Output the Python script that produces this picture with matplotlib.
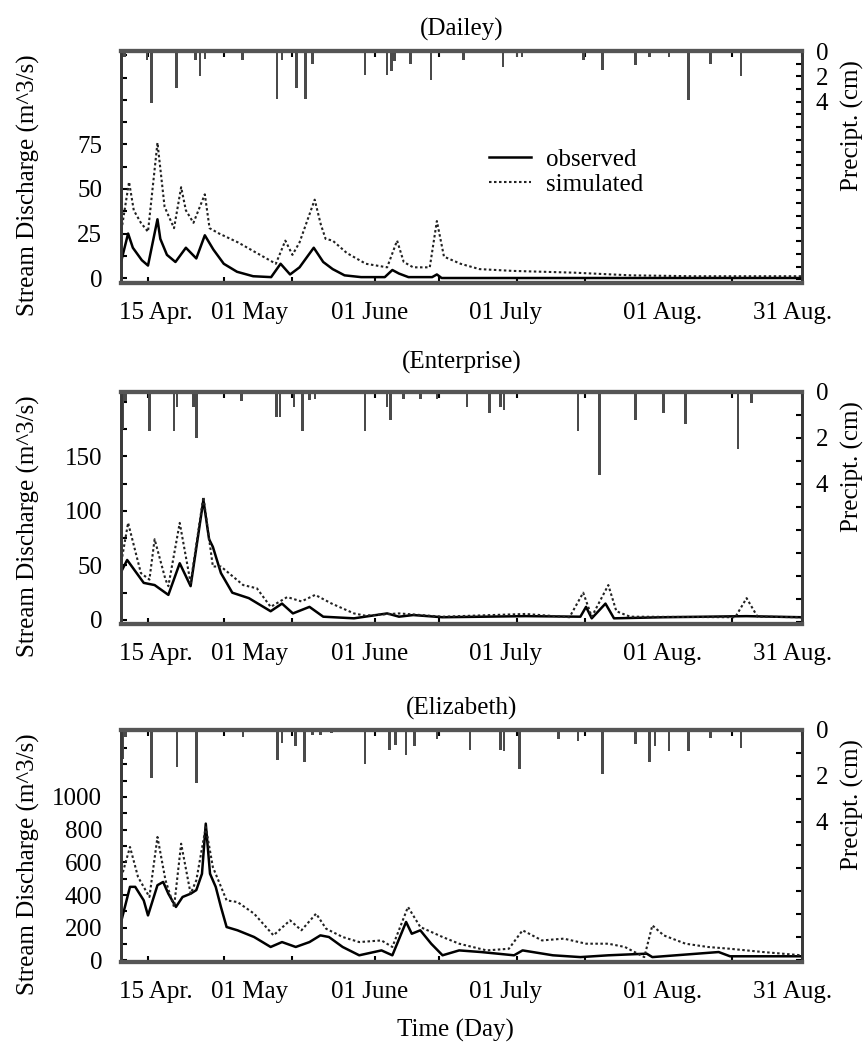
import numpy as np
import matplotlib.pyplot as plt

plt.rcParams['font.family'] = ['Liberation Serif', 'DejaVu Serif']
plt.rcParams['font.size'] = 18

# x axis is day of year (15 Apr = 105, 31 Aug = 243)
XTICKS = [105, 121, 135.4, 153, 166.4, 183, 197.3, 213.7, 228.3, 243]
XLABEL_POS = [106.7, 126.5, 151.9, 180.4, 213.7, 241.2]
XLABELS = ['15 Apr.', '01 May', '01 June', '01 July', '01 Aug.', '31 Aug.']

# ---- Dailey ----
dai_obs_day = [99.4, 100.8, 101.8, 103.7, 105, 107, 107.6, 109, 110.8, 113, 115.2, 117, 118.8, 121,
               123.8, 127.2, 131, 133, 135, 137, 140, 142, 144, 146.5, 150, 155, 156.6, 158, 160,
               165, 166, 167, 243]
dai_obs = [10, 25, 17, 10, 7, 33, 22, 13, 9, 17, 11, 24, 16, 8,
           3.5, 1, 0.5, 8, 2, 6, 17, 9, 5, 1.5, 0.5, 0.5, 4.5, 2.5, 0.5,
           0.5, 2, 0, 0]
dai_sim_day = [99.4, 101, 102, 103.5, 105, 107, 108.5, 110.5, 112, 113, 114.6, 117, 118, 120, 124,
               128, 132, 134, 135.5, 137, 140.2, 141.5, 142.5, 144, 147, 151, 155.5, 157.6, 159,
               161, 164.5, 166, 167.5, 171, 175, 182, 195, 207, 220, 243]
dai_sim = [27, 54, 38, 31, 26, 76, 40, 28, 51, 38, 31, 47, 28, 25, 20,
           14, 8, 21, 13, 20, 44, 30, 22, 21, 14, 8, 6, 21, 9,
           6, 6, 32, 12, 8, 5, 4, 3, 1.5, 1, 1]
dai_p_day = [99.5, 100, 104.8, 105.8, 111, 115, 116, 117, 125, 132.2, 133.3, 136.4, 138.2, 139.8,
             150.8, 155.5, 156.4, 157, 160.4, 164.8, 171.6, 180, 182.9, 184, 196.9, 201, 208,
             210.9, 215, 219.1, 223.8, 230.2]
dai_p = [2.3, 0.5, 0.7, 4.1, 2.9, 0.7, 2.0, 0.6, 0.7, 3.8, 0.7, 2.9, 3.8, 1.0,
         1.9, 1.9, 1.6, 0.8, 1.0, 2.3, 0.7, 1.3, 0.5, 0.5, 0.7, 1.5, 1.1,
         0.5, 0.5, 3.9, 1.0, 2.0]

# ---- Enterprise ----
ent_obs_day = [99.2, 100.6, 104.1, 106.4, 109.3, 111.7, 114, 116.7, 117.9, 118.7, 120.4, 122.8,
               126.3, 130.9, 133.3, 135.6, 139.1, 142, 148.5, 155.5, 158, 161, 167.2, 184.7,
               196.3, 197.5, 198.7, 201.6, 203.4, 213.9, 231.4, 243]
ent_obs = [43, 55, 34, 32, 23, 52, 31, 110, 74, 67, 43, 25,
           20, 8, 15, 6, 12, 3, 1.5, 6, 3, 4.5, 2.5, 3.5,
           3, 12, 1.5, 15, 1.5, 2.5, 3.5, 2.5]
ent_sim_day = [99.2, 100.8, 103.5, 105.3, 106.4, 108.7, 109.3, 111.7, 114, 116.7, 118.7, 120.4,
               125.1, 128, 130.9, 134.4, 137.4, 140.3, 143.8, 148.5, 150.8, 158, 167.2, 184.7,
               194, 196.9, 198.7, 202.2, 203.9, 206.8, 229, 231.4, 233.7, 243]
ent_sim = [49, 89, 43, 37, 74, 37, 31, 89, 34, 113, 49, 49,
           32, 29, 12, 21, 17, 23, 15, 6, 4, 6, 3, 5.5,
           2.5, 25, 3, 32, 8, 3, 2.5, 20, 3, 2.5]
ent_p_day = [99.6, 100.3, 105.3, 110.5, 111.1, 114.6, 115.2, 124.8, 132.1, 132.9, 135.8, 137.6,
             139.1, 140.3, 150.8, 155.5, 156.2, 159, 162.5, 166, 172.4, 177.1, 179.4, 180.2,
             195.8, 200.4, 208, 213.9, 218.5, 229.6, 232.5]
ent_p = [1.6, 0.4, 1.7, 1.7, 0.65, 0.65, 2.0, 0.4, 1.1, 1.1, 0.65, 1.7,
         0.35, 0.3, 1.7, 0.65, 1.2, 0.3, 0.3, 0.3, 0.65, 0.9, 0.65, 0.8,
         1.7, 3.6, 1.2, 0.9, 1.4, 2.5, 0.5]

# ---- Elizabeth ----
eli_obs_day = [99.4, 101.2, 102.3, 104.1, 105, 107, 108.2, 109.3, 110.9, 112.3, 114, 115.2, 116.4,
               117.2, 118.1, 119.3, 120.4, 121.6, 123.9, 127.4, 130.9, 133.3, 136.2, 139.1, 141.4,
               143.2, 146.1, 149.6, 154.3, 156.6, 159.5, 160.7, 162.5, 164.8, 167.2, 170.7, 175.3,
               182.3, 184.1, 190.5, 196.3, 202.2, 210.3, 211.5, 225.5, 227.9, 243]
eli_obs = [245, 450, 450, 367, 275, 460, 480, 408, 327, 388, 408, 430, 530,
           837, 530, 450, 327, 204, 184, 143, 82, 112, 82, 112, 153,
           143, 82, 31, 61, 31, 235, 163, 184, 102, 31, 61, 51,
           31, 61, 31, 20, 31, 41, 20, 51, 25, 25]
eli_sim_day = [99.4, 101.2, 102.9, 105.3, 107, 108.7, 110.5, 112, 114, 115.2, 117.2, 118.7, 121.6,
               123.9, 127.4, 131.5, 135, 137.4, 140.5, 142.6, 146.1, 149.6, 154.3, 156.6, 159.9,
               162.5, 167.2, 170.7, 176.5, 181.2, 184.1, 188.2, 192.8, 197.5, 202.2, 205.7, 209.8,
               211.5, 213.9, 218.5, 223.2, 227.9, 234.9, 243]
eli_sim = [510, 694, 510, 388, 755, 490, 327, 714, 408, 490, 816, 571, 367,
           357, 286, 153, 245, 184, 286, 194, 143, 112, 122, 82, 327,
           204, 143, 102, 61, 71, 184, 122, 133, 102, 102, 82, 20,
           214, 153, 102, 82, 71, 51, 31]
eli_p_day = [99.6, 100.3, 105.8, 111.1, 115.2, 125.1, 132.3, 133.3, 136.2, 138, 139.7, 141.4, 143.8,
             150.8, 156, 157.2, 159.5, 161.3, 166, 173, 179.4, 180.2, 183.5, 191.7, 195.8, 201,
             208, 210.9, 212.1, 215, 219.1, 223.8, 230.2]
eli_p = [1.25, 0.3, 2.1, 1.6, 2.3, 0.3, 1.3, 0.55, 0.7, 1.4, 0.2, 0.2, 0.15,
         1.5, 0.85, 0.65, 1.1, 0.7, 0.4, 0.85, 0.85, 0.9, 1.7, 0.4, 0.5, 1.9,
         0.6, 1.4, 0.7, 0.9, 0.9, 0.35, 0.8]

panels = [
    ('(Dailey)', dai_obs_day, dai_obs, dai_sim_day, dai_sim, dai_p_day, dai_p,
     (-2.8, 127.5), np.arange(0, 126, 12.5), [0, 25, 50, 75], 18.3, 11),
    ('(Enterprise)', ent_obs_day, ent_obs, ent_sim_day, ent_sim, ent_p_day, ent_p,
     (-3.7, 209), np.arange(0, 201, 25), [0, 50, 100, 150], 10.1, 17),
    ('(Elizabeth)', eli_obs_day, eli_obs, eli_sim_day, eli_sim, eli_p_day, eli_p,
     (-10, 1410), np.arange(0, 1401, 100), [0, 200, 400, 600, 800, 1000], 10.1, 11),
]

fig = plt.figure(figsize=(8.65, 10.46), dpi=100)
W, H = 865, 1046
tops = [51, 392, 730]

for i, (title, od, ov, sd, sv, pd_, pv, ylim, yt, ylab, pmax, tpad) in enumerate(panels):
    top = tops[i]
    ax = fig.add_axes([121 / W, 1 - (top + 232) / H, 681 / W, 232 / H])
    ax2 = ax.twinx()

    ax2.bar(pd_, pv, width=0.55, color='#4a4a4a', align='center')
    ax2.set_ylim(pmax, 0)
    ax2.set_yticks(np.arange(0, int(pmax) + 1, 1))
    ax2.set_yticklabels([str(v) if v in (0, 2, 4) else '' for v in range(int(pmax) + 1)])
    ax2.tick_params(axis='y', direction='in', length=4, width=1.5, pad=10, colors='black')
    ax2.set_ylabel('Precipt. (cm)')
    ax2.yaxis.set_label_coords(1.057, 0.68)

    ax.plot(od, ov, color='black', lw=1.8, zorder=3, label='observed')
    ax.plot(sd, sv, color='#222222', lw=1.5, ls=(0, (1.2, 1.2)), zorder=3, label='simulated')
    ax.set_ylim(*ylim)
    ax.set_yticks(yt)
    ax.set_yticklabels([('%g' % v) if v in ylab else '' for v in yt])
    ax.set_xlim(99.3, 243.1)
    # labels sit on their own (tickless) positions, tick marks on the minor locator
    ax.set_xticks(XLABEL_POS)
    ax.set_xticklabels(XLABELS)
    ax.set_xticks(XTICKS, minor=True)
    ax.tick_params(axis='x', which='major', length=0, pad=14)
    ax.tick_params(axis='x', which='minor', direction='in', length=4, width=1.5, top=True)
    ax.tick_params(axis='y', direction='in', length=4, width=1.5, pad=13.5)
    ax.set_ylabel('Stream Discharge (m^3/s)')
    ax.yaxis.set_label_coords(-0.119, 0.42)
    ax.set_title(title, fontsize=18, pad=tpad)

    for a in (ax, ax2):
        for s in ('top', 'bottom'):
            a.spines[s].set_linewidth(3)
            a.spines[s].set_color('#555555')
        for s in ('left', 'right'):
            a.spines[s].set_linewidth(2)
            a.spines[s].set_color('#3a3a3a')

    if i == 0:
        ax.legend(loc='upper left', bbox_to_anchor=(0.54, 0.58), frameon=False,
                  handlelength=1.7, handletextpad=0.6, labelspacing=0.1,
                  borderpad=0, borderaxespad=0, fontsize=18)

fig.text(455 / W, 1 - 1030 / H, 'Time (Day)', ha='center', va='center', fontsize=18)

fig.savefig('out.png', dpi=100)
